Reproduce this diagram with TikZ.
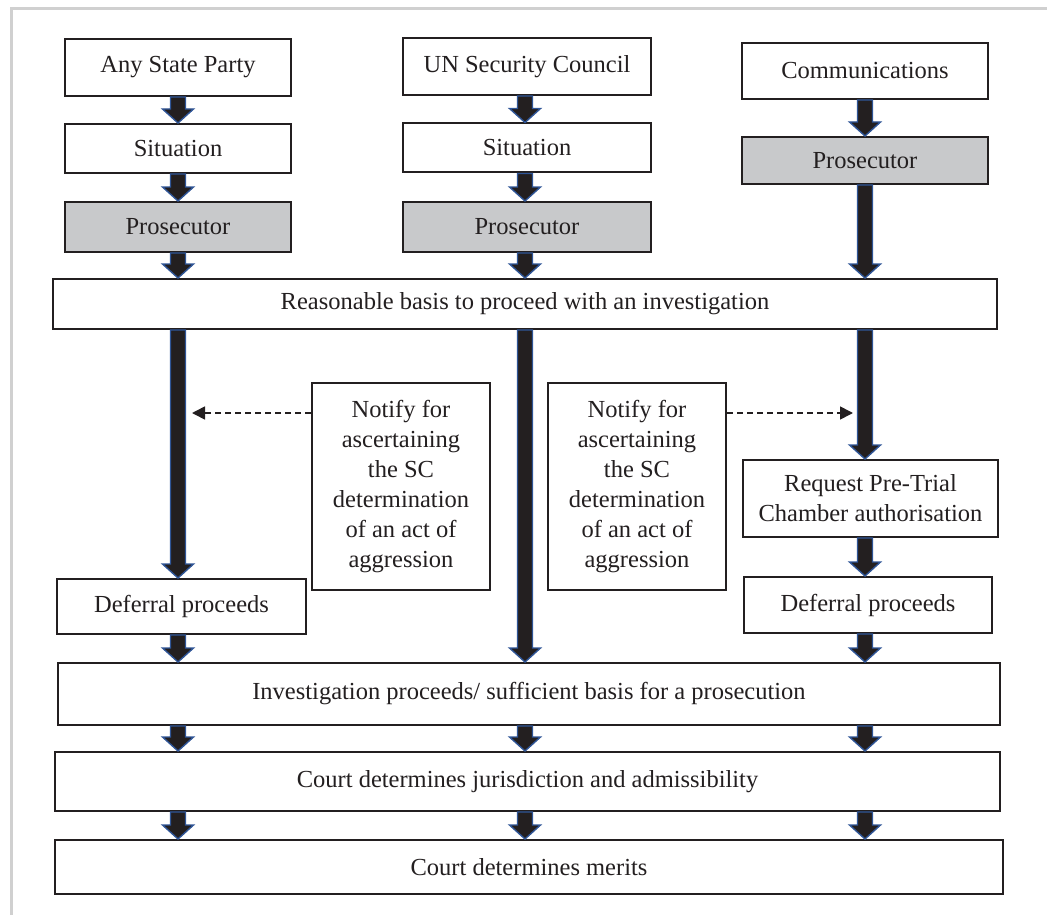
\documentclass[tikz,border=0pt]{standalone}
\usepackage{fontspec}
\setmainfont{Liberation Serif}
\usetikzlibrary{arrows.meta,calc}

\definecolor{ink}{RGB}{35,31,32}
\definecolor{shade}{RGB}{200,201,203}
\definecolor{rim}{RGB}{47,85,151}
\definecolor{framegrey}{RGB}{208,208,208}

\tikzset{
  box/.style={draw=ink, line width=2pt, fill=white, text=ink, align=center,
              inner sep=0pt, font=\fontsize{24.5}{30}\selectfont},
  greybox/.style={box, fill=shade},
  blockarrow/.style={fill=ink, draw=rim, line width=1.4pt, line join=miter},
  notice/.style={draw=ink, line width=1.6pt, dash pattern=on 6pt off 4pt,
                 -{Triangle[length=13pt,width=13pt]}},
}

% thick downward block arrow from #1 to the tip at #2
\newcommand\pushdown[2]{%
  \path[blockarrow] let \p1=(#1), \p2=(#2) in
    (\x1-7.5pt,\y1) -- (\x1+7.5pt,\y1) -- (\x1+7.5pt,\y2+14pt)
    -- (\x1+15.5pt,\y2+14pt) -- (\x1,\y2) -- (\x1-15.5pt,\y2+14pt)
    -- (\x1-7.5pt,\y2+14pt) -- cycle;}

\begin{document}
\begin{tikzpicture}[x=1pt,y=-1pt]
\useasboundingbox (0,0) rectangle (1047,915);
\draw[framegrey, line width=3pt] (11,915) -- (11,9) -- (1047,9);

% column axes
\coordinate (colL) at (178,0);
\coordinate (colM) at (525,0);
\coordinate (colR) at (865,0);

% referral sources
\node[box, minimum width=226pt, minimum height=57pt] (asp) at (178,67.5) {Any State Party};
\node[box, minimum width=248pt, minimum height=57pt] (un) at (527,66.5) {UN Security Council};
\node[box, minimum width=246pt, minimum height=56pt] (comm) at (865,71) {Communications};

\node[box, minimum width=226pt, minimum height=49pt] (sitL) at (178,148.5) {Situation};
\node[box, minimum width=248pt, minimum height=49pt] (sitM) at (527,148) {Situation};

\node[greybox, minimum width=226pt, minimum height=50pt] (proL) at (178,227) {Prosecutor};
\node[greybox, minimum width=248pt, minimum height=50pt] (proM) at (527,227) {Prosecutor};
\node[greybox, minimum width=246pt, minimum height=47pt] (proR) at (865,160.5) {Prosecutor};

\node[box, minimum width=944pt, minimum height=50pt] (reason) at (525,304)
  {Reasonable basis to proceed with an investigation};

\node[box, minimum width=178pt, minimum height=207pt] (notL) at (401,486.5)
  {Notify for\\ascertaining\\the SC\\determination\\of an act of\\aggression};
\node[box, minimum width=178pt, minimum height=207pt] (notR) at (637,486.5)
  {Notify for\\ascertaining\\the SC\\determination\\of an act of\\aggression};

\node[box, minimum width=255pt, minimum height=77pt] (req) at (870.5,498.5)
  {Request Pre-Trial\\Chamber authorisation};

\node[box, minimum width=249pt, minimum height=55pt] (defL) at (181.5,606.5) {Deferral proceeds};
\node[box, minimum width=248pt, minimum height=56pt] (defR) at (868,605) {Deferral proceeds};

\node[box, minimum width=942pt, minimum height=62pt] (inv) at (529,694)
  {Investigation proceeds/ sufficient basis for a prosecution};
\node[box, minimum width=945pt, minimum height=59pt] (jur) at (527.5,781.5)
  {Court determines jurisdiction and admissibility};
\node[box, minimum width=948pt, minimum height=54pt] (mer) at (529,867)
  {Court determines merits};

% block arrows
\pushdown{asp.south}{sitL.north}
\pushdown{sitL.south}{proL.north}
\pushdown{proL.south -| colL}{reason.north -| colL}
\pushdown{un.south -| colM}{sitM.north -| colM}
\pushdown{sitM.south -| colM}{proM.north -| colM}
\pushdown{proM.south -| colM}{reason.north -| colM}
\pushdown{comm.south -| colR}{proR.north -| colR}
\pushdown{proR.south -| colR}{reason.north -| colR}

\pushdown{reason.south -| colL}{defL.north -| colL}
\pushdown{reason.south -| colM}{inv.north -| colM}
\pushdown{reason.south -| colR}{req.north -| colR}
\pushdown{req.south -| colR}{defR.north -| colR}

\pushdown{defL.south -| colL}{inv.north -| colL}
\pushdown{defR.south -| colR}{inv.north -| colR}

\pushdown{inv.south -| colL}{jur.north -| colL}
\pushdown{inv.south -| colM}{jur.north -| colM}
\pushdown{inv.south -| colR}{jur.north -| colR}
\pushdown{jur.south -| colL}{mer.north -| colL}
\pushdown{jur.south -| colM}{mer.north -| colM}
\pushdown{jur.south -| colR}{mer.north -| colR}

% dashed notification arrows
\coordinate (dashL) at (192,413);
\coordinate (dashR) at (853,413);
\draw[notice] (notL.west |- dashL) -- (dashL);
\draw[notice] (notR.east |- dashR) -- (dashR);
\end{tikzpicture}
\end{document}
